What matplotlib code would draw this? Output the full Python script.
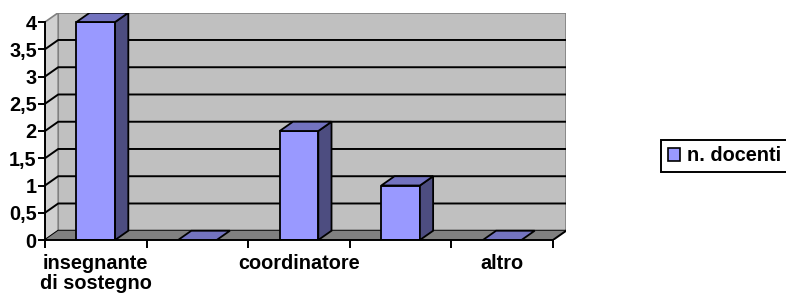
import numpy as np
import matplotlib
matplotlib.use("Agg")
from matplotlib import pyplot as plt
from matplotlib.patches import Polygon, Patch

plt.rcParams['font.family'] = ['Liberation Sans', 'DejaVu Sans']
plt.rcParams['font.weight'] = 'bold'

# data
labels = ['insegnante\ndi sostegno', '', 'coordinatore', '', 'altro']
docenti = [4, 0, 2, 1, 0]
yticks = [0, 0.5, 1, 1.5, 2, 2.5, 3, 3.5, 4]
ytick_labels = ['0', '0,5', '1', '1,5', '2', '2,5', '3', '3,5', '4']
serie = 'n. docenti'

front = '#9999FF'
side = '#4D4D80'
top = '#7373BF'
fs = 14.3

W, H = 786, 296
fig = plt.figure(figsize=(W / 100, H / 100), dpi=100)

# depth of the fake 3d box, in data units
dx = 0.13
dy = 0.17
n = len(docenti)
x0, x1 = -0.5, n - 0.5
ymax = 4

# pixel frame of the front plane
px_l, px_r = 45, 553
py_0, py_4 = 240, 22
ppx = (px_r - px_l) / (x1 - x0)
ppy = (py_0 - py_4) / ymax
ax_w = (x1 - x0 + dx) * ppx
ax_h = (ymax + dy) * ppy
ax = fig.add_axes([px_l / W, (H - py_0) / H, ax_w / W, ax_h / H])
ax.set_xlim(x0, x1 + dx)
ax.set_ylim(0, ymax + dy)
ax.patch.set_visible(False)

# walls and floor
ax.add_patch(Polygon([(x0 + dx, dy), (x1 + dx, dy), (x1 + dx, ymax + dy), (x0 + dx, ymax + dy)],
                     closed=True, facecolor='#C0C0C0', edgecolor='#808080', lw=1.2, zorder=1))
ax.add_patch(Polygon([(x0, 0), (x0 + dx, dy), (x0 + dx, ymax + dy), (x0, ymax)],
                     closed=True, facecolor='#D0D0D0', edgecolor='#808080', lw=1.2, zorder=1))
for v in yticks[:-1]:
    ax.plot([x0, x0 + dx, x1 + dx], [v, v + dy, v + dy], color='black', lw=1.4, zorder=2,
            solid_capstyle='butt')
ax.add_patch(Polygon([(x0, 0), (x1, 0), (x1 + dx, dy), (x0 + dx, dy)],
                     closed=True, facecolor='#808080', edgecolor='none', zorder=3))
ax.plot([x1, x1 + dx], [0, dy], color='black', lw=1.4, zorder=3)

# bars
xs = np.arange(n)
bw = 0.38
ax.bar(xs, docenti, width=bw, color=front, edgecolor='black', lw=1.3, zorder=5)
for xc, v in zip(xs, docenti):
    xr = xc + bw / 2
    xl = xc - bw / 2
    if v > 0:
        ax.add_patch(Polygon([(xr, 0), (xr + dx, dy), (xr + dx, v + dy), (xr, v)], closed=True,
                             facecolor=side, edgecolor='black', lw=1.3, zorder=5))
    ax.add_patch(Polygon([(xl, v), (xr, v), (xr + dx, v + dy), (xl + dx, v + dy)], closed=True,
                         facecolor=top, edgecolor='black', lw=1.3, zorder=5))

# axes
for s in ['top', 'right']:
    ax.spines[s].set_visible(False)
ax.spines['left'].set_bounds(0, ymax)
ax.spines['bottom'].set_bounds(x0, x1)
for s in ['left', 'bottom']:
    ax.spines[s].set_linewidth(1.4)
    ax.spines[s].set_zorder(6)

ax.set_yticks(yticks)
ax.set_yticklabels(ytick_labels, fontsize=fs, fontweight='bold')
ax.tick_params(axis='y', direction='out', length=5, width=1.4, pad=1)

ax.set_xticks(np.arange(n + 1) - 0.5)
ax.set_xticklabels([])
ax.tick_params(axis='x', which='major', direction='out', length=6, width=1.4)
ax.set_xticks(xs, minor=True)
ax.set_xticklabels(labels, minor=True, fontsize=fs, fontweight='bold', linespacing=1.1)
ax.tick_params(axis='x', which='minor', length=0, pad=10)

leg = fig.legend(handles=[Patch(facecolor=front, edgecolor='black', lw=1.2, label=serie)],
                 loc='center left', bbox_to_anchor=(661 / W, 1 - 156 / H), fancybox=False,
                 edgecolor='black', framealpha=1, prop={'weight': 'bold', 'size': fs},
                 handlelength=0.6, handleheight=0.6, handletextpad=0.35, borderpad=0.35,
                 borderaxespad=0)
leg.get_frame().set_linewidth(1.4)

fig.savefig('out.png', dpi=100)
